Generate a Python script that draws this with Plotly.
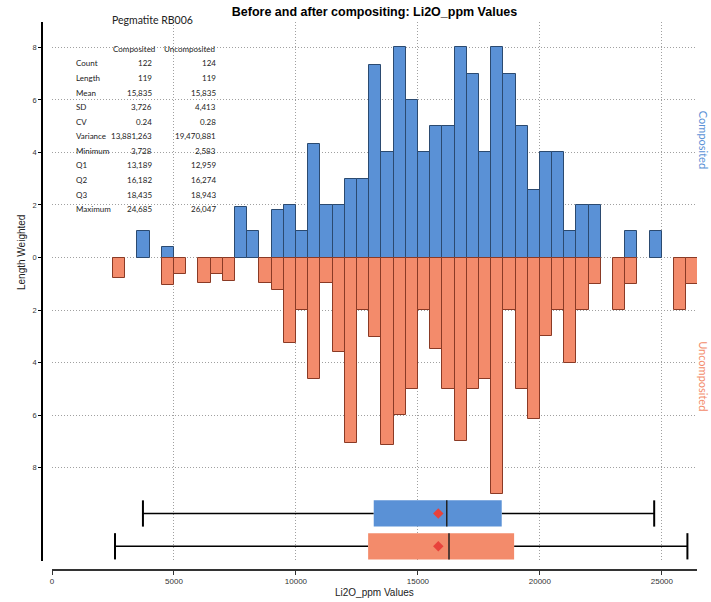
import plotly.graph_objects as go

# histogram bins (left edge, 500 ppm wide) and length-weighted heights
comp_bins = [3500, 4500, 7500, 8000, 9000, 9500, 10000, 10500, 11000, 11500, 12000,
             12500, 13000, 13500, 14000, 14500, 15000, 15500, 16000, 16500, 17000,
             17500, 18000, 18500, 19000, 19500, 20000, 20500, 21000, 21500, 22000,
             23500, 24500]
comp_heights = [1.0, 0.41, 1.93, 1.0, 1.81, 2.0, 1.0, 4.32, 2.0, 2.0, 3.0,
                3.0, 7.33, 4.0, 8.0, 6.0, 4.0, 5.0, 5.0, 8.0, 7.0,
                4.0, 8.0, 7.0, 5.0, 2.56, 4.0, 4.0, 1.0, 2.0, 2.0,
                1.0, 1.0]

uncomp_bins = [2500, 4500, 5000, 6000, 6500, 7000, 8500, 9000, 9500, 10000, 10500,
               11000, 11500, 12000, 12500, 13000, 13500, 14000, 14500, 15000, 15500,
               16000, 16500, 17000, 17500, 18000, 18500, 19000, 19500, 20000, 20500,
               21000, 21500, 22000, 23000, 23500, 25500, 26000]
uncomp_heights = [0.78, 1.03, 0.64, 0.98, 0.62, 0.88, 0.98, 1.22, 3.24, 2.0, 4.64,
                  0.98, 3.59, 7.06, 2.0, 3.02, 7.14, 6.0, 5.0, 2.0, 3.49,
                  5.0, 7.0, 5.0, 4.62, 9.0, 2.0, 5.0, 6.16, 3.0, 2.0,
                  4.0, 2.0, 1.0, 2.0, 1.0, 2.0, 1.0]

# box plot summary
box_names = ["Composited", "Uncomposited"]
box_min = [3728, 2583]
box_q1 = [13189, 12959]
box_median = [16182, 16274]
box_q3 = [18435, 18943]
box_max = [24685, 26047]
box_mean = [15835, 15835]

# stats table
stat_names = ["Count", "Length", "Mean", "SD", "CV", "Variance", "Minimum",
              "Q1", "Q2", "Q3", "Maximum"]
comp_stats = ["122", "119", "15,835", "3,726", "0.24", "13,881,263", "3,728",
              "13,189", "16,182", "18,435", "24,685"]
uncomp_stats = ["124", "119", "15,835", "4,413", "0.28", "19,470,881", "2,583",
                "12,959", "16,274", "18,943", "26,047"]

x_ticks = [0, 5000, 10000, 15000, 20000, 25000]
y_ticks = [-8, -6, -4, -2, 0, 2, 4, 6, 8]

BLUE = "#5A91D6"
BLUE_EDGE = "#2B4A70"
ORANGE = "#F38B6B"
ORANGE_EDGE = "#8A3A25"
BOX_COLORS = [BLUE, ORANGE]
BOX_POS = [-9.75, -11.0]
HALF = 0.5

W, H = 711, 602
ML, MR, MT, MB = 42, 14, 22, 32
PW, PH = W - ML - MR, H - MT - MB


def px_x(p):
    return (p - ML) / PW


def px_y(p):
    return (H - MB - p) / PH


fig = go.Figure()

fig.add_trace(go.Bar(
    x=comp_bins, y=comp_heights, width=500, offset=0,
    marker=dict(color=BLUE, line=dict(color=BLUE_EDGE, width=1)),
    name="Composited",
))
fig.add_trace(go.Bar(
    x=uncomp_bins, y=[-v for v in uncomp_heights], width=500, offset=0,
    marker=dict(color=ORANGE, line=dict(color=ORANGE_EDGE, width=1)),
    name="Uncomposited",
))

for i, name in enumerate(box_names):
    p = BOX_POS[i]
    fig.add_trace(go.Scatter(
        x=[box_min[i], box_q1[i], None, box_q3[i], box_max[i]],
        y=[p, p, None, p, p],
        mode="lines", line=dict(color="black", width=1.5), hoverinfo="skip",
    ))
    fig.add_trace(go.Scatter(
        x=[box_min[i], box_min[i], None, box_max[i], box_max[i]],
        y=[p - HALF, p + HALF, None, p - HALF, p + HALF],
        mode="lines", line=dict(color="black", width=2), hoverinfo="skip",
    ))
    fig.add_trace(go.Scatter(
        x=[box_q1[i], box_q3[i], box_q3[i], box_q1[i], box_q1[i]],
        y=[p - HALF, p - HALF, p + HALF, p + HALF, p - HALF],
        mode="lines", fill="toself", fillcolor=BOX_COLORS[i],
        line=dict(width=0, color=BOX_COLORS[i]), name=name,
    ))
    fig.add_trace(go.Scatter(
        x=[box_median[i], box_median[i]], y=[p - HALF, p + HALF],
        mode="lines", line=dict(color="#222222", width=1.5), hoverinfo="skip",
    ))
    fig.add_trace(go.Scatter(
        x=[box_mean[i]], y=[p], mode="markers",
        marker=dict(symbol="diamond", size=8, color="#E8423B"),
    ))

ann = []
table_font = dict(family="Lato", size=8, color="#222222")
ann.append(dict(text="Pegmatite RB006", x=px_x(152), y=px_y(20), xref="paper", yref="paper",
                showarrow=False, xanchor="center", yanchor="middle",
                font=dict(family="Lato", size=10.5, color="#222222")))
ann.append(dict(text="Composited", x=px_x(157), y=px_y(49.3), xref="paper", yref="paper",
                showarrow=False, xanchor="right", yanchor="middle", font=table_font))
ann.append(dict(text="Uncomposited", x=px_x(217), y=px_y(49.3), xref="paper", yref="paper",
                showarrow=False, xanchor="right", yanchor="middle", font=table_font))
for i, label in enumerate(stat_names):
    yy = px_y(63.3 + i * 14.6)
    ann.append(dict(text=label, x=px_x(74), y=yy, xref="paper", yref="paper",
                    showarrow=False, xanchor="left", yanchor="middle", font=table_font))
    ann.append(dict(text=comp_stats[i], x=px_x(153.5), y=yy, xref="paper", yref="paper",
                    showarrow=False, xanchor="right", yanchor="middle", font=table_font))
    ann.append(dict(text=uncomp_stats[i], x=px_x(217.5), y=yy, xref="paper", yref="paper",
                    showarrow=False, xanchor="right", yanchor="middle", font=table_font))

# side labels hug the right page edge
ann.append(dict(text="Composited", x=1, y=4.5, xref="paper", yref="y", xshift=-2,
                showarrow=False, xanchor="left", yanchor="middle", textangle=90,
                font=dict(family="Lato", size=11, color=BLUE)))
ann.append(dict(text="Uncomposited", x=1, y=-4.5, xref="paper", yref="y", xshift=-2,
                showarrow=False, xanchor="left", yanchor="middle", textangle=90,
                font=dict(family="Lato", size=11, color=ORANGE)))
ann.append(dict(text="Length Weighted", x=px_x(22), y=px_y(253), xref="paper", yref="paper",
                showarrow=False, xanchor="center", yanchor="middle", textangle=-90,
                font=dict(family="Liberation Sans", size=10, color="#222222")))
ann.append(dict(text="Li2O_ppm Values", x=px_x(374.5), y=px_y(592), xref="paper", yref="paper",
                showarrow=False, xanchor="center", yanchor="middle",
                font=dict(family="Liberation Sans", size=10, color="#222222")))

grid = dict(showgrid=True, gridcolor="#a0a0a0", gridwidth=1, griddash="1px,2px", zeroline=False)

fig.update_layout(
    width=W, height=H,
    margin=dict(l=ML, r=MR, t=MT, b=MB),
    paper_bgcolor="white", plot_bgcolor="white",
    showlegend=False, barmode="overlay", bargap=0,
    title=dict(text="<b>Before and after compositing: Li2O_ppm Values</b>",
               x=px_x(374.5), xref="paper", xanchor="center",
               y=1 - 12 / H, yref="container", yanchor="middle",
               font=dict(family="Liberation Sans", size=12.5, color="black")),
    xaxis=dict(range=[0, 26440], domain=[10 / PW, 1], anchor="free", position=0,
               tickvals=x_ticks, tickformat="d", ticks="outside", ticklen=4,
               tickcolor="#333333", showline=True, linecolor="#333333", linewidth=1.5,
               tickfont=dict(family="Liberation Sans", size=8, color="#333333"), **grid),
    yaxis=dict(range=[-11.56, 8.97], domain=[9 / PH, 1], anchor="free", position=0,
               tickvals=y_ticks, ticktext=[str(abs(v)) for v in y_ticks],
               ticks="outside", ticklen=3, tickcolor="black",
               showline=True, linecolor="black", linewidth=1.5,
               tickfont=dict(family="Liberation Sans", size=7.5, color="#333333"), **grid),
    annotations=ann,
)

# drop the browser's default body margin so the figure sits at the page corner
fig.write_html("out.html", config={"displayModeBar": False},
               post_script="document.body.style.margin='0';")
